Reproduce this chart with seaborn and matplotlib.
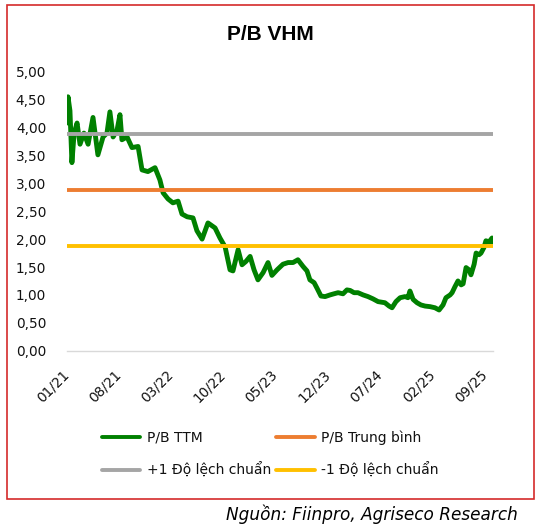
import pandas as pd
import matplotlib.pyplot as plt
import matplotlib.dates as mdates
from matplotlib.patches import Rectangle
from matplotlib.transforms import ScaledTranslation
from matplotlib.ticker import FuncFormatter
import seaborn as sns

# P/B TTM of VHM
dates = ['2021-01-01', '2021-01-05', '2021-01-13', '2021-01-21', '2021-01-30',
         '2021-02-11', '2021-02-23', '2021-03-11', '2021-03-28', '2021-04-17',
         '2021-05-07', '2021-05-28', '2021-06-13', '2021-06-25', '2021-07-08',
         '2021-07-24', '2021-08-05', '2021-08-13', '2021-09-03', '2021-09-23',
         '2021-10-18', '2021-11-03', '2021-11-27', '2021-12-26', '2022-01-15',
         '2022-01-28', '2022-02-17', '2022-03-09', '2022-03-30', '2022-04-15',
         '2022-05-06', '2022-05-30', '2022-06-15', '2022-07-06', '2022-07-30',
         '2022-08-28', '2022-09-17', '2022-10-08', '2022-10-28', '2022-11-09',
         '2022-11-30', '2022-12-16', '2023-01-01', '2023-01-18', '2023-02-03',
         '2023-02-19', '2023-03-12', '2023-04-01', '2023-04-17', '2023-05-08',
         '2023-06-01', '2023-06-22', '2023-07-12', '2023-08-01', '2023-08-22',
         '2023-09-07', '2023-09-19', '2023-10-06', '2023-10-18', '2023-11-03',
         '2023-11-20', '2023-12-10', '2023-12-26', '2024-01-12', '2024-02-01',
         '2024-02-17', '2024-03-01', '2024-03-17', '2024-04-02', '2024-04-23',
         '2024-05-13', '2024-06-02', '2024-06-23', '2024-07-21', '2024-08-07',
         '2024-08-19', '2024-09-04', '2024-09-21', '2024-10-11', '2024-10-23',
         '2024-10-31', '2024-11-13', '2024-11-29', '2024-12-15', '2025-01-01',
         '2025-01-21', '2025-02-10', '2025-02-27', '2025-03-15', '2025-03-27',
         '2025-04-13', '2025-04-21', '2025-05-03', '2025-05-15', '2025-05-28',
         '2025-06-05', '2025-06-17', '2025-06-29', '2025-07-07', '2025-07-20',
         '2025-07-28', '2025-08-09', '2025-08-17', '2025-08-29', '2025-09-06',
         '2025-09-19', '2025-10-01', '2025-10-03']
pb_ttm = [4.08, 4.55, 4.30, 3.37, 3.90,
          4.08, 3.70, 3.90, 3.70, 4.18,
          3.51, 3.83, 3.90, 4.28, 3.83,
          3.95, 4.23, 3.78, 3.83, 3.64,
          3.66, 3.24, 3.21, 3.28, 3.06,
          2.83, 2.72, 2.65, 2.68, 2.45,
          2.40, 2.38, 2.15, 2.00, 2.29,
          2.20, 2.02, 1.86, 1.45, 1.43,
          1.81, 1.54, 1.60, 1.69, 1.45,
          1.27, 1.40, 1.58, 1.35, 1.45,
          1.55, 1.58, 1.58, 1.63, 1.51,
          1.43, 1.27, 1.22, 1.12, 0.98,
          0.97, 1.00, 1.02, 1.04, 1.02,
          1.09, 1.08, 1.04, 1.04, 1.00,
          0.97, 0.93, 0.88, 0.86, 0.80,
          0.77, 0.88, 0.95, 0.97, 0.95,
          1.07, 0.92, 0.86, 0.82, 0.80,
          0.79, 0.77, 0.73, 0.82, 0.95,
          1.00, 1.04, 1.15, 1.25, 1.18,
          1.20, 1.49, 1.45, 1.36, 1.55,
          1.75, 1.72, 1.75, 1.85, 1.97,
          1.95, 2.02, 1.95]
pb_mean = 2.875
pb_std = 1.0

tick_dates = ['2021-01-01', '2021-08-01', '2022-03-01', '2022-10-01', '2023-05-01',
              '2023-12-01', '2024-07-01', '2025-02-01', '2025-09-01']

labels = ['P/B TTM', 'P/B Trung bình', '+1 Độ lệch chuẩn', '-1 Độ lệch chuẩn']
colors = ['#008000', '#ED7D31', '#A5A5A5', '#FFC000']

df = pd.DataFrame({'date': pd.to_datetime(dates), 'pb': pb_ttm})
df['mean'] = pb_mean
df['plus'] = pb_mean + pb_std
df['minus'] = pb_mean - pb_std

sns.set_style('white')
plt.rcParams['font.family'] = ['DejaVu Sans']
plt.rcParams['text.color'] = 'black'

fig = plt.figure(figsize=(5.37, 5.29), dpi=100)
ax = fig.add_axes([0.1248, 0.337, 0.7933, 0.5275])

sns.lineplot(data=df, x='date', y='pb', ax=ax, color=colors[0], lw=3.5, label=labels[0],
             solid_joinstyle='round', solid_capstyle='round')
sns.lineplot(data=df, x='date', y='mean', ax=ax, color=colors[1], lw=2.8, label=labels[1])
sns.lineplot(data=df, x='date', y='plus', ax=ax, color=colors[2], lw=2.8, label=labels[2])
sns.lineplot(data=df, x='date', y='minus', ax=ax, color=colors[3], lw=2.8, label=labels[3])
ax.get_legend().remove()

ax.set_ylim(0, 5)
ax.set_yticks([0, 0.5, 1, 1.5, 2, 2.5, 3, 3.5, 4, 4.5, 5])
ax.yaxis.set_major_formatter(FuncFormatter(lambda v, p: f'{v:.2f}'.replace('.', ',')))
ax.set_xlim(pd.Timestamp('2021-01-01'), pd.Timestamp('2025-10-05'))
ax.set_xticks(pd.to_datetime(tick_dates))
ax.xaxis.set_major_formatter(mdates.DateFormatter('%m/%y'))
ax.set_xlabel('')
ax.set_ylabel('')

for s in ['top', 'right', 'left']:
    ax.spines[s].set_visible(False)
ax.spines['bottom'].set_color('#D9D9D9')
ax.spines['bottom'].set_linewidth(1)

ax.tick_params(axis='y', length=0, pad=15, labelsize=9.8, labelcolor='#111111')
ax.tick_params(axis='x', length=0, pad=12, labelsize=9.8, labelcolor='#111111',
               labelrotation=45)
shift = ScaledTranslation(5 / 100, 0, fig.dpi_scale_trans)
for lab in ax.get_xticklabels():
    lab.set_ha('right')
    lab.set_transform(lab.get_transform() + shift)

fig.text(270 / 537, 1 - 35 / 529, 'P/B VHM', ha='center', va='center', color='black',
         fontsize=15, fontweight='bold', family=['Liberation Sans', 'DejaVu Sans'])

handles, lbls = ax.get_legend_handles_labels()
order = [0, 2, 1, 3]
leg = fig.legend([handles[i] for i in order], [lbls[i] for i in order],
                 loc='center', bbox_to_anchor=(270 / 537, 1 - 454 / 529), ncol=2,
                 frameon=False, fontsize=10, handlelength=2.8, handletextpad=0.45,
                 columnspacing=0.35, labelspacing=1.3, labelcolor='#111111')
for h in leg.get_lines():
    h.set_linewidth(2.8)
    h.set_solid_capstyle('round')

fig.text(518 / 537, 1 - 514 / 529, 'Nguồn: Fiinpro, Agriseco Research', ha='right',
         va='center', fontsize=12.2, style='italic', color='black')

fig.patches.append(Rectangle((7 / 537, 1 - 499 / 529), 527 / 537, 494 / 529,
                             transform=fig.transFigure, fill=False,
                             edgecolor='#D42A2A', linewidth=1.2))

fig.savefig('out.png', dpi=100)
